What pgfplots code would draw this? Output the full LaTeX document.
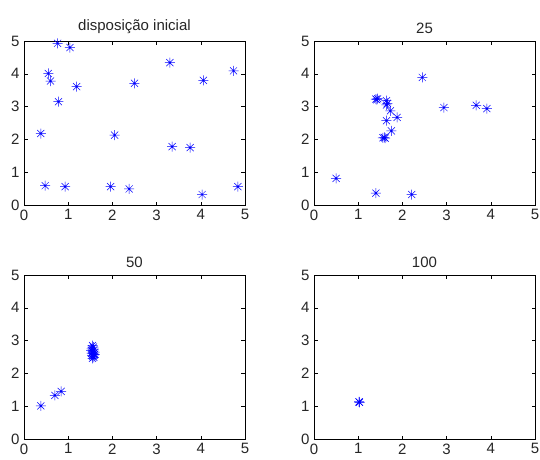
\documentclass[border=0pt]{standalone}
\usepackage{pgfplots}
\pgfplotsset{compat=1.18}
\usepackage{fontspec}
\setmainfont{Liberation Sans}
\pgfdeclareplotmark{mstar}{%
  \pgfpathmoveto{\pgfqpoint{-\pgfplotmarksize}{0pt}}\pgfpathlineto{\pgfqpoint{\pgfplotmarksize}{0pt}}%
  \pgfpathmoveto{\pgfqpoint{0pt}{-\pgfplotmarksize}}\pgfpathlineto{\pgfqpoint{0pt}{\pgfplotmarksize}}%
  \pgfpathmoveto{\pgfqpoint{-.70710678\pgfplotmarksize}{-.70710678\pgfplotmarksize}}\pgfpathlineto{\pgfqpoint{.70710678\pgfplotmarksize}{.70710678\pgfplotmarksize}}%
  \pgfpathmoveto{\pgfqpoint{-.70710678\pgfplotmarksize}{.70710678\pgfplotmarksize}}\pgfpathlineto{\pgfqpoint{.70710678\pgfplotmarksize}{-.70710678\pgfplotmarksize}}%
  \pgfusepathqstroke}
\pgfplotsset{
  mstyle/.style={
    scale only axis, width=221pt, height=164pt, anchor=south west,
    xmin=0, xmax=5, ymin=0, ymax=5,
    xtick={0,1,2,3,4,5}, ytick={0,1,2,3,4,5},
    tick align=inside, tick pos=both, major tick length=3.5pt,
    axis line style={line width=0.6pt, black},
    every tick/.style={black, line width=0.5pt},
    tick label style={font=\fontsize{15}{17}\selectfont, text=black!85},
    /pgf/number format/assume math mode=true,
    xticklabel style={yshift=-1pt},
    yticklabel style={xshift=-1pt},
    title style={font=\fontsize{15}{17}\selectfont, yshift=-2pt, text=black!85},
  },
  pts/.style={only marks, mark=mstar, mark size=5pt, blue, mark options={line width=0.5pt}},
}
\begin{document}
\begin{tikzpicture}
\useasboundingbox (0pt,0pt) rectangle (540pt,459pt);
\begin{axis}[mstyle, at={(24pt,254pt)}, title={disposição inicial}]
\addplot[pts] coordinates {
(0.76,4.93) (1.04,4.80) (0.55,4.01) (0.60,3.78) (1.19,3.61) (0.78,3.15)
(0.38,2.18) (0.48,0.59) (0.93,0.56) (1.96,0.56) (2.38,0.49) (2.05,2.13)
(2.50,3.71) (3.30,4.34) (3.35,1.78) (3.76,1.75) (4.06,3.80) (4.03,0.32)
(4.74,4.09) (4.84,0.56)
};
\end{axis}
\begin{axis}[mstyle, at={(314pt,254pt)}, title={25}]
\addplot[pts] coordinates {
(0.50,0.81) (1.40,0.36) (2.21,0.32) (1.40,3.23) (1.44,3.24) (1.64,3.18)
(1.64,3.05) (1.73,2.87) (1.88,2.67) (1.64,2.57) (1.75,2.26) (1.59,2.06)
(1.56,2.05) (1.61,2.04) (2.45,3.89) (2.94,2.97) (3.67,3.04) (3.91,2.94)
(1.42,3.21) (1.66,3.10)
};
\end{axis}
\begin{axis}[mstyle, at={(24pt,20pt)}, title={50}]
\addplot[pts] coordinates {
(0.38,1.01) (0.70,1.33) (0.84,1.45)
(1.55,2.85) (1.57,2.80) (1.53,2.75) (1.58,2.72) (1.55,2.68) (1.60,2.65)
(1.53,2.62) (1.57,2.60) (1.59,2.57) (1.54,2.55) (1.56,2.52) (1.58,2.49)
(1.55,2.46) (1.60,2.58) (1.52,2.70)
};
\end{axis}
\begin{axis}[mstyle, at={(314pt,20pt)}, title={100}]
\addplot[pts] coordinates {
(1.02,1.13) (1.02,1.13) (1.03,1.12)
};
\end{axis}
\end{tikzpicture}
\end{document}
